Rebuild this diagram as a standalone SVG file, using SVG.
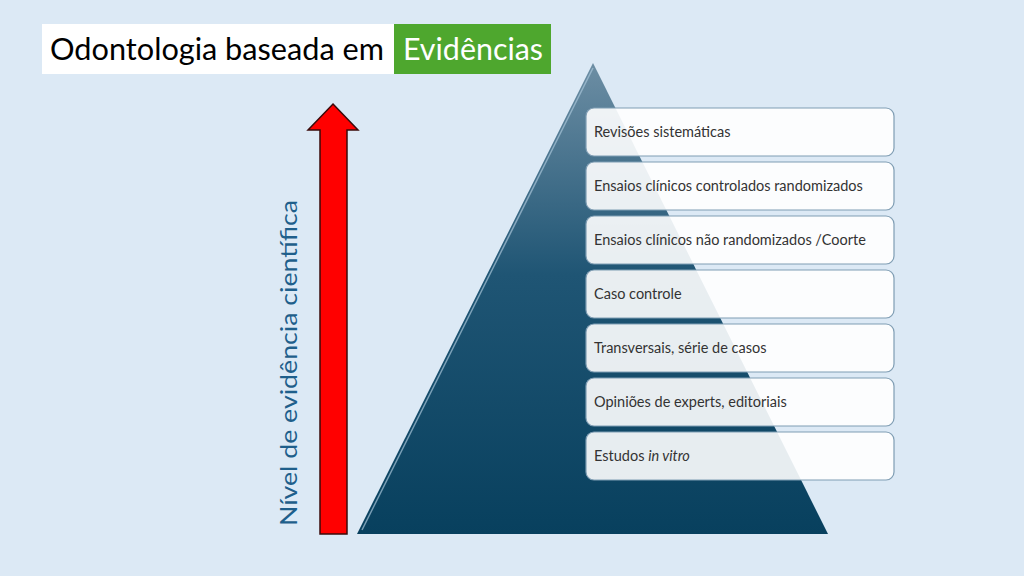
<svg xmlns="http://www.w3.org/2000/svg" width="1024" height="576" viewBox="0 0 1024 576">
<style>
.box{fill:#ffffff;fill-opacity:0.9;stroke:#7f9db3;stroke-width:1.2}
.lbl{font-family:Lato,"Liberation Sans",sans-serif;font-size:14.5px;fill:#333}
</style>
<defs>
<linearGradient id="tri" x1="0" y1="0" x2="0" y2="1">
<stop offset="0" stop-color="#6d8ea4"/><stop offset="0.45" stop-color="#1f5574"/><stop offset="1" stop-color="#08405e"/>
</linearGradient>
</defs>
<rect width="1024" height="576" fill="#dce9f5"/>
<g id="title">
<rect x="42" y="24" width="352" height="50" fill="#fff"/>
<rect x="394" y="24" width="157" height="50" fill="#4ea72e"/>
<text x="50" y="60" font-family="Lato,'Liberation Sans',sans-serif" font-size="30" fill="#000" textLength="334" lengthAdjust="spacingAndGlyphs">Odontologia baseada em</text>
<text x="403" y="60" font-family="Lato,'Liberation Sans',sans-serif" font-size="30" fill="#fff" textLength="140" lengthAdjust="spacingAndGlyphs">Evidências</text>
</g>
<g id="arrow">
<polygon points="333,104 358,130 347,130 347,534 320,534 320,130 308,130" fill="#ff0000" stroke="#3a0a0a" stroke-width="1.5"/>
</g>
<text transform="translate(297,526) rotate(-90)" font-family="Lato,'Liberation Sans',sans-serif" font-size="24" fill="#1f5f8b" textLength="326" lengthAdjust="spacingAndGlyphs">Nível de evidência científica</text>
<g id="pyramid">
<polygon points="593,63 828,534 357,534" fill="url(#tri)"/>
<polyline points="362,530 593,68" fill="none" stroke="#a8c4d8" stroke-width="1.5" opacity="0.7"/>
</g>
<g id="n1"><rect class="box" x="586" y="108" width="308" height="48" rx="8"/><text class="lbl" x="594" y="137">Revisões sistemáticas</text></g>
<g id="n2"><rect class="box" x="586" y="162" width="308" height="48" rx="8"/><text class="lbl" x="594" y="191">Ensaios clínicos controlados randomizados</text></g>
<g id="n3"><rect class="box" x="586" y="216" width="308" height="48" rx="8"/><text class="lbl" x="594" y="245">Ensaios clínicos não randomizados /Coorte</text></g>
<g id="n4"><rect class="box" x="586" y="270" width="308" height="48" rx="8"/><text class="lbl" x="594" y="299">Caso controle</text></g>
<g id="n5"><rect class="box" x="586" y="324" width="308" height="48" rx="8"/><text class="lbl" x="594" y="353">Transversais, série de casos</text></g>
<g id="n6"><rect class="box" x="586" y="378" width="308" height="48" rx="8"/><text class="lbl" x="594" y="407">Opiniões de experts, editoriais</text></g>
<g id="n7"><rect class="box" x="586" y="432" width="308" height="48" rx="8"/><text class="lbl" x="594" y="461">Estudos <tspan font-style="italic">in vitro</tspan></text></g>
<g id="connectors"/>
</svg>
